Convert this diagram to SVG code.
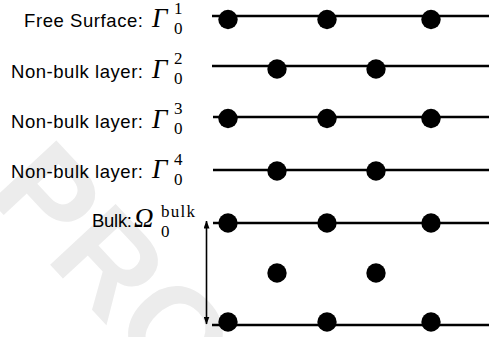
<svg xmlns="http://www.w3.org/2000/svg" width="489" height="337" viewBox="0 0 489 337">
<style>
.lbl{font-family:"Liberation Sans",Arial,sans-serif;font-size:18.5px;fill:#000}
.sym{font-family:"Liberation Serif","Times New Roman",serif;font-style:italic;font-size:27px;fill:#000}
.idx{font-family:"Liberation Serif","Times New Roman",serif;font-size:17px;fill:#000}
.ln{stroke:#000;stroke-width:2.5;fill:none}
.dot{fill:#000}
.wm{font-family:"Liberation Sans",Arial,sans-serif;font-weight:bold;font-size:130px;fill:#ececec}
</style>
<defs>
<marker id="ah" viewBox="0 0 8 6" refX="7.5" refY="3" markerWidth="8" markerHeight="6" markerUnits="userSpaceOnUse" orient="auto-start-reverse">
<path d="M0,0 L8,3 L0,6 z" fill="#000"/>
</marker>
</defs>
<rect width="489" height="337" fill="#fff"/>
<text class="wm" transform="translate(-15,195) rotate(47)">PROOF</text>

<g id="row1">
<text class="lbl" x="143" y="27.3" text-anchor="end" textLength="119" lengthAdjust="spacing">Free Surface:</text>
<text class="sym" x="152" y="27.3">Γ</text>
<text class="idx" x="174" y="14">1</text>
<text class="idx" x="174" y="33.5">0</text>
<line class="ln" x1="212" y1="16" x2="489" y2="16"/>
<circle class="dot" cx="228" cy="19.5" r="9.7"/>
<circle class="dot" cx="327" cy="19.5" r="9.7"/>
<circle class="dot" cx="431" cy="19.5" r="9.7"/>
</g>

<g id="row2">
<text class="lbl" x="143" y="77.6" text-anchor="end" textLength="132" lengthAdjust="spacing">Non-bulk layer:</text>
<text class="sym" x="152" y="77.6">Γ</text>
<text class="idx" x="174" y="64">2</text>
<text class="idx" x="174" y="83.8">0</text>
<line class="ln" x1="212" y1="66" x2="489" y2="66"/>
<circle class="dot" cx="277" cy="69" r="9.7"/>
<circle class="dot" cx="376" cy="69" r="9.7"/>
</g>

<g id="row3">
<text class="lbl" x="143" y="127.9" text-anchor="end" textLength="132" lengthAdjust="spacing">Non-bulk layer:</text>
<text class="sym" x="152" y="127.9">Γ</text>
<text class="idx" x="174" y="114.3">3</text>
<text class="idx" x="174" y="134.1">0</text>
<line class="ln" x1="213" y1="117" x2="489" y2="117"/>
<circle class="dot" cx="228" cy="118.5" r="9.7"/>
<circle class="dot" cx="327" cy="118.5" r="9.7"/>
<circle class="dot" cx="431" cy="118.5" r="9.7"/>
</g>

<g id="row4">
<text class="lbl" x="143" y="178.2" text-anchor="end" textLength="132" lengthAdjust="spacing">Non-bulk layer:</text>
<text class="sym" x="152" y="178.2">Γ</text>
<text class="idx" x="174" y="164.6">4</text>
<text class="idx" x="174" y="184.5">0</text>
<line class="ln" x1="213" y1="170" x2="489" y2="170"/>
<circle class="dot" cx="277" cy="171" r="9.7"/>
<circle class="dot" cx="376" cy="171" r="9.7"/>
</g>

<g id="bulk">
<text class="lbl" x="132" y="226.7" text-anchor="end" textLength="40" lengthAdjust="spacing">Bulk:</text>
<text class="sym" x="134" y="226.7">Ω</text>
<text class="idx" x="161" y="216.7" textLength="34" lengthAdjust="spacing">bulk</text>
<text class="idx" x="161" y="237">0</text>
<line class="ln" x1="213" y1="223" x2="489" y2="223"/>
<circle class="dot" cx="228" cy="223" r="9.7"/>
<circle class="dot" cx="327" cy="223" r="9.7"/>
<circle class="dot" cx="431" cy="223" r="9.7"/>
<circle class="dot" cx="277" cy="273" r="9.7"/>
<circle class="dot" cx="376" cy="273" r="9.7"/>
<line class="ln" x1="212" y1="325" x2="489" y2="325"/>
<circle class="dot" cx="228" cy="322" r="9.7"/>
<circle class="dot" cx="327" cy="322" r="9.7"/>
<circle class="dot" cx="431" cy="322" r="9.7"/>
</g>

<g id="connectors">
<line x1="206.5" y1="221" x2="206.5" y2="324" stroke="#000" stroke-width="1.6" marker-start="url(#ah)" marker-end="url(#ah)"/>
</g>
</svg>
